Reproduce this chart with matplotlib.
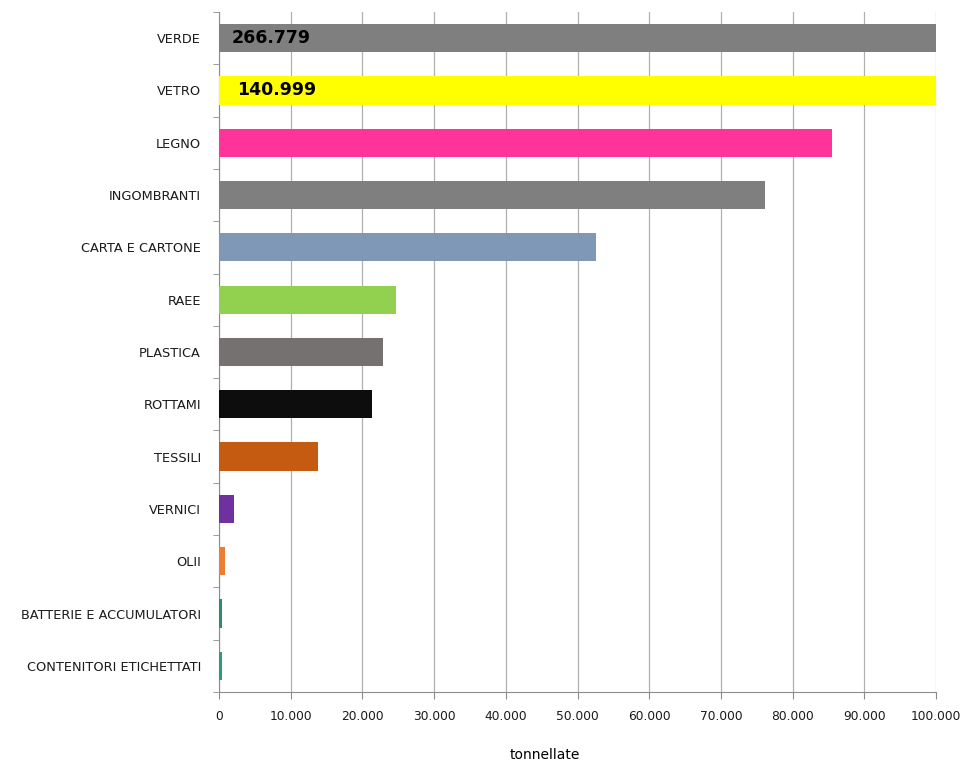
import numpy as np
import matplotlib.pyplot as plt
from matplotlib.ticker import FuncFormatter

# categories top -> bottom
categorie = ["VERDE", "VETRO", "LEGNO", "INGOMBRANTI", "CARTA E CARTONE", "RAEE",
             "PLASTICA", "ROTTAMI", "TESSILI", "VERNICI", "OLII",
             "BATTERIE E ACCUMULATORI", "CONTENITORI ETICHETTATI"]
tonnellate = [266779, 140999, 85500, 76200, 52600, 24700,
              22800, 21300, 13800, 2100, 800, 350, 450]
colori = ["#7f7f7f", "#ffff00", "#ff3399", "#7f7f7f", "#7f98b6", "#92d050",
          "#767171", "#0d0d0d", "#c55a11", "#7030a0", "#ed7d31",
          "#2e8b6e", "#2e9b76"]
x_max = 100000
x_ticks = np.arange(0, 100001, 10000)

def fmt(v, pos=None):
    return f"{int(v):,}".replace(",", ".")

fig = plt.figure(figsize=(9.64, 7.62), dpi=100)
ax = fig.add_axes([0.2272, 0.0919, 0.7438, 0.8924])

y = np.arange(len(categorie))
ax.barh(y, tonnellate, height=0.54, color=colori, zorder=3)

# bars longer than the axis get their value written inside
for i, v in enumerate(tonnellate):
    if v > x_max:
        ax.text(x_max * (0.018 + 0.007 * i), i, fmt(v), va="center", ha="left",
                fontsize=12.5, fontweight="bold", color="black", zorder=4)

ax.set_xlim(0, x_max)
ax.set_ylim(len(categorie) - 0.5, -0.5)
ax.set_xticks(x_ticks)
ax.xaxis.set_major_formatter(FuncFormatter(fmt))
ax.set_yticks(y)
ax.set_yticklabels(categorie)
ax.set_yticks(np.arange(-0.5, len(categorie), 1), minor=True)

ax.grid(axis="x", color="#b0b0b0", linewidth=0.9, zorder=0)
for s in ["top", "right"]:
    ax.spines[s].set_visible(False)
for s in ["left", "bottom"]:
    ax.spines[s].set_color("#8c8c8c")

ax.tick_params(axis="y", which="major", length=0, pad=13, labelsize=9.3, labelcolor="#1a1a1a")
ax.tick_params(axis="y", which="minor", length=4, color="#8c8c8c")
ax.tick_params(axis="x", length=5, color="#8c8c8c", pad=8, labelsize=8.8, labelcolor="#1a1a1a")

fig.text(545 / 964, 1 - 755 / 762, "tonnellate", ha="center", va="center", fontsize=10)

fig.savefig("out.png", dpi=100, facecolor="white")
